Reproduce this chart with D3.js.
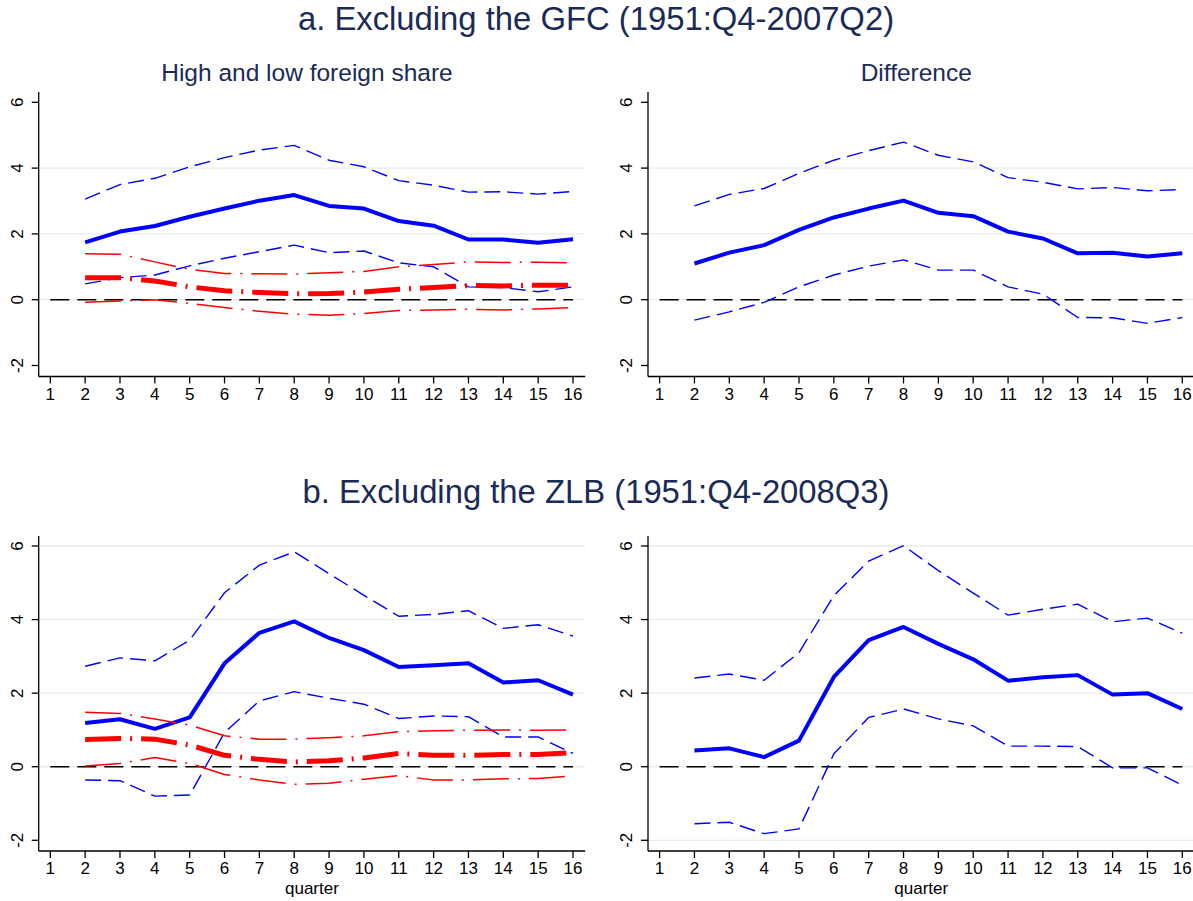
<!DOCTYPE html>
<html>
<head>
<meta charset="utf-8">
<script src="https://cdnjs.cloudflare.com/ajax/libs/d3/7.8.5/d3.min.js"></script>
<style>
  body { margin: 0; background: #fff; }
  svg { display: block; font-family: "Liberation Sans", Arial, sans-serif; }
</style>
</head>
<body>
<svg id="chart" width="1193" height="901"></svg>
<script>
// quarters with estimates (quarter 1 has no point)
const quarters = [2, 3, 4, 5, 6, 7, 8, 9, 10, 11, 12, 13, 14, 15, 16]
const xTicks = [1, 2, 3, 4, 5, 6, 7, 8, 9, 10, 11, 12, 13, 14, 15, 16]
const yTicks = [-2, 0, 2, 4, 6]

const titleA = 'a. Excluding the GFC (1951:Q4-2007Q2)'
const titleB = 'b. Excluding the ZLB (1951:Q4-2008Q3)'
const subLeft = 'High and low foreign share'
const subRight = 'Difference'
const xLabel = 'quarter'

// panel a, left: high foreign share (blue) and low foreign share (red)
const aHigh   = [1.74, 2.07, 2.24, 2.52, 2.77, 3.01, 3.18, 2.85, 2.77, 2.39, 2.25, 1.83, 1.83, 1.73, 1.84]
const aHighUp = [3.06, 3.50, 3.69, 4.04, 4.32, 4.55, 4.69, 4.24, 4.04, 3.62, 3.48, 3.27, 3.28, 3.21, 3.29]
const aHighLo = [0.48, 0.67, 0.75, 1.03, 1.26, 1.46, 1.66, 1.43, 1.48, 1.12, 1.00, 0.39, 0.37, 0.24, 0.39]
const aLow    = [0.67, 0.67, 0.57, 0.39, 0.27, 0.22, 0.18, 0.19, 0.23, 0.32, 0.37, 0.43, 0.42, 0.44, 0.44]
const aLowUp  = [1.40, 1.38, 1.15, 0.92, 0.80, 0.79, 0.78, 0.82, 0.86, 1.00, 1.07, 1.15, 1.13, 1.14, 1.12]
const aLowLo  = [-0.08, -0.04, 0.00, -0.11, -0.24, -0.35, -0.44, -0.47, -0.42, -0.33, -0.31, -0.29, -0.31, -0.28, -0.24]

// panel a, right: difference
const aDiff   = [1.10, 1.43, 1.66, 2.12, 2.50, 2.77, 3.01, 2.64, 2.54, 2.07, 1.86, 1.41, 1.43, 1.31, 1.41]
const aDiffUp = [2.85, 3.20, 3.38, 3.84, 4.24, 4.53, 4.79, 4.39, 4.19, 3.71, 3.57, 3.37, 3.41, 3.31, 3.35]
const aDiffLo = [-0.62, -0.37, -0.08, 0.39, 0.75, 1.02, 1.21, 0.90, 0.90, 0.39, 0.17, -0.54, -0.55, -0.72, -0.54]

// panel b, left
const bHigh   = [1.19, 1.29, 1.03, 1.34, 2.81, 3.64, 3.95, 3.50, 3.17, 2.71, 2.76, 2.81, 2.29, 2.35, 1.96]
const bHighUp = [2.73, 2.96, 2.88, 3.44, 4.73, 5.48, 5.84, 5.25, 4.66, 4.09, 4.14, 4.24, 3.76, 3.86, 3.55]
const bHighLo = [-0.36, -0.38, -0.80, -0.77, 0.93, 1.79, 2.04, 1.86, 1.70, 1.31, 1.38, 1.36, 0.81, 0.81, 0.36]
const bLow    = [0.74, 0.77, 0.75, 0.59, 0.31, 0.20, 0.13, 0.16, 0.24, 0.36, 0.31, 0.31, 0.33, 0.33, 0.38]
const bLowUp  = [1.48, 1.45, 1.30, 1.13, 0.84, 0.75, 0.75, 0.79, 0.84, 0.95, 0.98, 0.99, 1.00, 0.99, 1.00]
const bLowLo  = [0.02, 0.09, 0.25, 0.09, -0.21, -0.36, -0.48, -0.45, -0.34, -0.24, -0.36, -0.36, -0.33, -0.32, -0.25]

// panel b, right
const bDiff   = [0.44, 0.50, 0.26, 0.71, 2.44, 3.44, 3.80, 3.34, 2.92, 2.34, 2.43, 2.49, 1.96, 2.00, 1.57]
const bDiffUp = [2.41, 2.52, 2.35, 3.10, 4.65, 5.59, 6.01, 5.33, 4.72, 4.12, 4.28, 4.42, 3.94, 4.04, 3.63]
const bDiffLo = [-1.55, -1.51, -1.82, -1.69, 0.35, 1.34, 1.57, 1.30, 1.11, 0.56, 0.56, 0.55, -0.03, -0.03, -0.50]

const navy = '#1a2b57'
const blue = '#0000ff'
const red = '#ff0000'

// line styles
const styles = {
  mean:     { color: blue, width: 4,   dash: null },
  band:     { color: blue, width: 1.4, dash: '16,7' },
  lowMean:  { color: red,  width: 5,   dash: '36,9,2,9' },
  lowBand:  { color: red,  width: 1.5, dash: '36,9,2,9' }
}

const svg = d3.select('#chart')

function panel(opt) {
  const g = svg.append('g')
  const x = d3.scaleLinear().domain([1, 16]).range([opt.left + 11.6, opt.left + 534.3])
  const y = d3.scaleLinear().domain([-2, 6]).range(opt.yRange)
  const right = opt.left + 546.5

  // grid lines
  g.selectAll('line.grid').data(opt.grid).join('line')
    .attr('x1', opt.left).attr('x2', right)
    .attr('y1', d => y(d)).attr('y2', d => y(d))
    .attr('stroke', '#e4edf0').attr('stroke-width', 1.3)

  // zero reference line
  g.append('line')
    .attr('x1', x(1)).attr('x2', x(16))
    .attr('y1', y(0)).attr('y2', y(0))
    .attr('stroke', '#000').attr('stroke-width', 1.4)
    .attr('stroke-dasharray', '19,8')

  const line = d3.line().x((d, i) => x(quarters[i])).y(d => y(d))
  opt.series.forEach(s => {
    const st = styles[s.style]
    g.append('path')
      .attr('d', line(s.values))
      .attr('fill', 'none')
      .attr('stroke', st.color)
      .attr('stroke-width', st.width)
      .attr('stroke-linejoin', 'round')
      .attr('stroke-dasharray', st.dash)
  })

  // y axis
  g.append('line')
    .attr('x1', opt.left).attr('x2', opt.left)
    .attr('y1', opt.top).attr('y2', opt.bottom)
    .attr('stroke', '#000').attr('stroke-width', 1.3)
  g.selectAll('line.ytick').data(yTicks).join('line')
    .attr('x1', opt.left - 7).attr('x2', opt.left)
    .attr('y1', d => y(d)).attr('y2', d => y(d))
    .attr('stroke', '#000').attr('stroke-width', 1.3)
  g.selectAll('text.ylab').data(yTicks).join('text')
    .attr('transform', d => `translate(${opt.left - 16},${y(d)}) rotate(-90)`)
    .attr('text-anchor', 'middle')
    .attr('font-size', 17)
    .attr('fill', '#000')
    .text(d => d)

  // x axis
  g.append('line')
    .attr('x1', opt.left).attr('x2', right)
    .attr('y1', opt.bottom).attr('y2', opt.bottom)
    .attr('stroke', '#000').attr('stroke-width', 1.3)
  g.selectAll('line.xtick').data(xTicks).join('line')
    .attr('x1', d => x(d)).attr('x2', d => x(d))
    .attr('y1', opt.bottom).attr('y2', opt.bottom + 7)
    .attr('stroke', '#000').attr('stroke-width', 1.3)
  g.selectAll('text.xlab').data(xTicks).join('text')
    .attr('x', d => x(d)).attr('y', opt.bottom + 23)
    .attr('text-anchor', 'middle')
    .attr('font-size', 17)
    .attr('fill', '#000')
    .text(d => d)

  if (opt.xTitle) {
    g.append('text')
      .attr('x', (opt.left + right) / 2).attr('y', opt.bottom + 43)
      .attr('text-anchor', 'middle')
      .attr('font-size', 17)
      .attr('fill', '#000')
      .text(opt.xTitle)
  }
  if (opt.sub) {
    g.append('text')
      .attr('x', (opt.left + right) / 2 - 5).attr('y', opt.top - 11)
      .attr('text-anchor', 'middle')
      .attr('font-size', 24.5)
      .attr('fill', navy)
      .text(opt.sub)
  }
}

const topRow = { top: 92, bottom: 376.5, yRange: [365.5, 102.3] }
const botRow = { top: 536, bottom: 851, yRange: [840.3, 546] }
const leftX = 38.7
const rightX = 648

panel(Object.assign({}, topRow, {
  left: leftX, sub: subLeft, grid: [0, 2, 4],
  series: [
    { values: aHighUp, style: 'band' }, { values: aHighLo, style: 'band' },
    { values: aHigh, style: 'mean' },
    { values: aLowUp, style: 'lowBand' }, { values: aLowLo, style: 'lowBand' },
    { values: aLow, style: 'lowMean' }
  ]
}))
panel(Object.assign({}, topRow, {
  left: rightX, sub: subRight, grid: [0, 2, 4],
  series: [
    { values: aDiffUp, style: 'band' }, { values: aDiffLo, style: 'band' },
    { values: aDiff, style: 'mean' }
  ]
}))
panel(Object.assign({}, botRow, {
  left: leftX, xTitle: xLabel, grid: [0, 2, 4, 6],
  series: [
    { values: bHighUp, style: 'band' }, { values: bHighLo, style: 'band' },
    { values: bHigh, style: 'mean' },
    { values: bLowUp, style: 'lowBand' }, { values: bLowLo, style: 'lowBand' },
    { values: bLow, style: 'lowMean' }
  ]
}))
panel(Object.assign({}, botRow, {
  left: rightX, xTitle: xLabel, grid: [-2, 0, 2, 4, 6],
  series: [
    { values: bDiffUp, style: 'band' }, { values: bDiffLo, style: 'band' },
    { values: bDiff, style: 'mean' }
  ]
}))

// row titles
svg.append('text')
  .attr('x', 596).attr('y', 30)
  .attr('text-anchor', 'middle')
  .attr('font-size', 32.8)
  .attr('fill', navy)
  .text(titleA)
svg.append('text')
  .attr('x', 596).attr('y', 503)
  .attr('text-anchor', 'middle')
  .attr('font-size', 32.8)
  .attr('fill', navy)
  .text(titleB)
</script>
</body>
</html>
